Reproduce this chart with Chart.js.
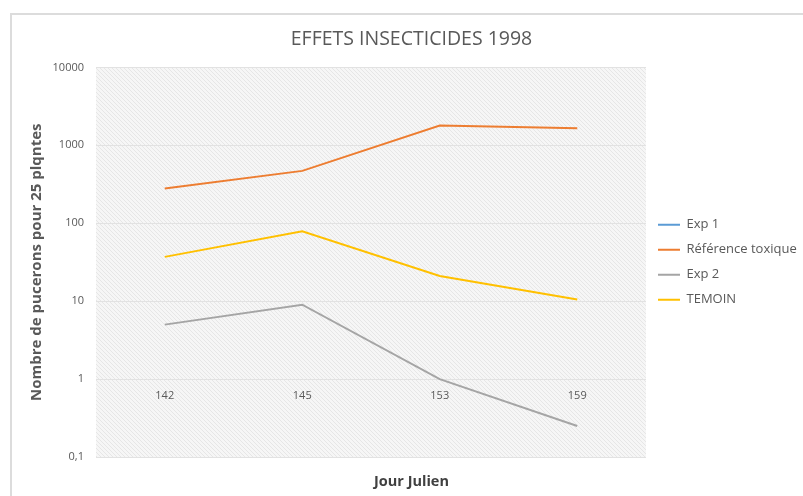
<!DOCTYPE html>
<html>
<head>
<meta charset="utf-8">
<script src="https://cdn.jsdelivr.net/npm/chart.js@4"></script>
<style>
  html, body { margin: 0; padding: 0; background: #fff; overflow: hidden; }
  #frame { position: absolute; left: 10px; top: 13px; width: 900px; height: 600px;
           border-top: 2px solid #dcdcdc; border-left: 2px solid #dcdcdc; }
  #wrap { position: absolute; left: 0; top: 0; width: 803px; height: 496px; }
</style>
</head>
<body>
<div id="frame"></div>
<div id="wrap"><canvas id="insectChart" width="803" height="496"></canvas></div>
<script>
// jours juliens
const jours = ['142', '145', '153', '159'];

// nombre de pucerons pour 25 plantes
const exp1 = [null, null, null, null];
const referenceToxique = [280, 470, 1800, 1650];
const exp2 = [5, 9, 1, 0.25];
const temoin = [37, 79, 21, 10.5];

const yTicks = [0.1, 1, 10, 100, 1000, 10000];

const textGrey = '#595959';
const fontFam = "'Open Sans', 'Liberation Sans', sans-serif";

// hatched plot background like the excel pattern fill
function makeHatch() {
  const c = document.createElement('canvas');
  c.width = 4; c.height = 4;
  const g = c.getContext('2d');
  g.fillStyle = '#f6f6f6';
  g.fillRect(0, 0, 4, 4);
  g.strokeStyle = '#e6e6e6';
  g.lineWidth = 1;
  g.beginPath();
  g.moveTo(-1, -1); g.lineTo(5, 5);
  g.moveTo(-1, 3); g.lineTo(1, 5);
  g.moveTo(3, -1); g.lineTo(5, 1);
  g.stroke();
  return g.createPattern(c, 'repeat');
}

const plotBackground = {
  id: 'plotBackground',
  beforeDraw(chart) {
    const {ctx, chartArea} = chart;
    ctx.save();
    ctx.fillStyle = makeHatch();
    ctx.fillRect(chartArea.left, chartArea.top, chartArea.width, chartArea.height);
    ctx.restore();
  }
};

const legendWidth = {
  id: 'legendWidth',
  beforeLayout(chart) {
    const lg = chart.legend;
    if (lg && !lg._widthFixed) {
      const fit = lg.fit.bind(lg);
      lg.fit = function () { fit(); this.width = 157; };
      lg._widthFixed = true;
    }
  }
};

function serie(label, data, color) {
  return {
    label: label,
    data: data,
    borderColor: color,
    backgroundColor: color,
    pointBorderColor: color,
    pointBackgroundColor: color,
    pointBorderWidth: 2,
    xAxisID: 'x'
  };
}

const chart = new Chart(document.getElementById('insectChart').getContext('2d'), {
  type: 'line',
  data: {
    labels: jours,
    datasets: [
      serie('Exp 1', exp1, '#5B9BD5'),
      serie('Référence toxique', referenceToxique, '#ED7D31'),
      serie('Exp 2', exp2, '#A5A5A5'),
      serie('TEMOIN', temoin, '#FFC000')
    ]
  },
  options: {
    responsive: false,
    animation: false,
    events: [],
    elements: {
      line: { borderWidth: 2, tension: 0 },
      point: { radius: 0 }
    },
    layout: { padding: { left: 20, right: 0, top: 0, bottom: 0 } },
    plugins: {
      title: {
        display: true,
        text: 'EFFETS INSECTICIDES 1998',
        color: textGrey,
        font: { family: fontFam, size: 19.5, weight: 'normal' },
        padding: { top: 28, bottom: 16 }
      },
      legend: {
        position: 'right',
        fullSize: false,
        labels: {
          usePointStyle: true,
          pointStyle: 'line',
          pointStyleWidth: 22,
          boxHeight: 13,
          padding: 12,
          color: textGrey,
          font: { family: fontFam, size: 13 }
        }
      },
      tooltip: { enabled: false }
    },
    scales: {
      x: {
        type: 'category',
        position: { y: 1 },
        offset: true,
        grid: { display: false, drawTicks: false },
        border: { display: false },
        ticks: { color: textGrey, padding: 10, font: { family: fontFam, size: 11 } }
      },
      x2: {
        type: 'category',
        position: 'bottom',
        fullSize: true,
        grid: { display: false, drawTicks: false },
        border: { display: false },
        ticks: { display: false },
        title: {
          display: true,
          text: 'Jour Julien',
          color: '#404040',
          font: { family: fontFam, size: 14.5, weight: 'bold' },
          padding: { top: 0, bottom: 5 }
        },
        afterFit(scale) { scale.height = 39; }
      },
      y: {
        type: 'logarithmic',
        position: 'left',
        min: 0.1,
        max: 10000,
        afterBuildTicks(scale) { scale.ticks = yTicks.map(v => ({ value: v })); },
        afterFit(scale) { scale.width = 76; },
        grid: { color: '#e2e2e2', drawTicks: false },
        border: { display: false },
        ticks: {
          color: textGrey,
          padding: 12,
          font: { family: fontFam, size: 11 },
          callback: v => String(v).replace('.', ',')
        },
        title: {
          display: true,
          text: 'Nombre de pucerons pour 25 plqntes',
          color: textGrey,
          font: { family: fontFam, size: 15, weight: 'bold' },
          padding: { top: 8, bottom: 0 }
        }
      }
    }
  },
  plugins: [plotBackground, legendWidth]
});
</script>
</body>
</html>
